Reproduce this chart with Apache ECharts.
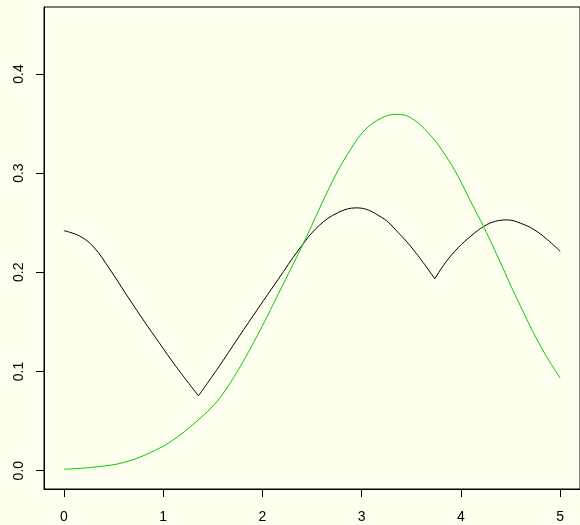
<!DOCTYPE html>
<html>
<head>
<meta charset="utf-8">
<script src="https://cdn.jsdelivr.net/npm/echarts@6/dist/echarts.min.js"></script>
<style>
html,body{margin:0;padding:0;background:#FFFFF0;}
#chart{width:580px;height:525px;}
</style>
</head>
<body>
<div id="chart"></div>
<script>
// X tick values and Y tick values
const xTicks = [0, 1, 2, 3, 4, 5];
const yTicks = [0, 0.1, 0.2, 0.3, 0.4];

// Black curve, in three pieces (sharp corners between them)
const blackX1 = [0, 0.16, 0.3, 0.46, 0.63, 0.8, 0.96, 1.13, 1.356];
const blackY1 = [0.242, 0.2365, 0.2255, 0.2035, 0.1775, 0.152, 0.129, 0.105, 0.0755];
const blackX2 = [1.356, 1.56, 1.76, 1.96, 2.16, 2.365, 2.565, 2.765, 2.95, 3.2, 3.367, 3.534, 3.737];
const blackY2 = [0.0755, 0.1045, 0.1345, 0.164, 0.193, 0.2225, 0.2465, 0.2603, 0.265, 0.2555, 0.2402, 0.2212, 0.1935];
const blackX3 = [3.737, 3.85, 3.97, 4.1, 4.235, 4.35, 4.47, 4.6, 4.736, 4.87, 5];
const blackY3 = [0.1935, 0.2105, 0.2245, 0.2365, 0.2465, 0.2515, 0.2528, 0.2495, 0.2431, 0.233, 0.2212];

// Green curve
const greenX = [0, 0.3, 0.63, 0.96, 1.13, 1.3, 1.5, 1.63, 1.8, 2.0, 2.165, 2.415, 2.72, 2.88, 3.033, 3.2, 3.35, 3.5, 3.7, 3.85, 3.97, 4.1, 4.235, 4.4, 4.569, 4.8, 5];
const greenY = [0.0014, 0.0035, 0.009, 0.0225, 0.033, 0.0465, 0.065, 0.0815, 0.109, 0.146, 0.179, 0.2297, 0.2945, 0.3225, 0.3435, 0.3555, 0.3593, 0.3555, 0.3374, 0.317, 0.297, 0.271, 0.2449, 0.2094, 0.1724, 0.126, 0.0933];

const pair = (xs, ys) => xs.map((x, i) => [x, ys[i]]);

const chart = echarts.init(document.getElementById('chart'), null, {renderer: 'canvas'});
const font = 'Liberation Sans, Arial, Helvetica, sans-serif';

function lineSeries(data, color) {
  return {
    type: 'line',
    data: data,
    symbol: 'none',
    smooth: 0.4,
    lineStyle: {color: color, width: 1},
    silent: true
  };
}

chart.setOption({
  backgroundColor: '#FFFFF0',
  animation: false,
  grid: {
    left: 44, top: 7, right: -3, bottom: 36,
    show: true, borderColor: '#000', borderWidth: 1, backgroundColor: 'transparent'
  },
  xAxis: {
    type: 'value',
    min: -0.2, max: 5.2,
    axisLine: {show: true, onZero: false, lineStyle: {color: '#000', width: 1}},
    axisTick: {show: true, length: 8, inside: false, customValues: xTicks, lineStyle: {color: '#000'}},
    axisLabel: {show: true, customValues: xTicks, margin: 21, color: '#000', fontSize: 14, fontFamily: font,
      formatter: v => String(v)},
    splitLine: {show: false}
  },
  yAxis: {
    type: 'value',
    min: -0.0185, max: 0.4675,
    axisLine: {show: true, onZero: false, lineStyle: {color: '#000', width: 1}},
    axisTick: {show: true, length: 8, inside: false, customValues: yTicks, lineStyle: {color: '#000'}},
    axisLabel: {show: true, customValues: yTicks, margin: 18, rotate: 90, color: '#000', fontSize: 14, fontFamily: font,
      formatter: v => v.toFixed(1)},
    splitLine: {show: false}
  },
  series: [
    lineSeries(pair(blackX1, blackY1), '#000000'),
    lineSeries(pair(blackX2, blackY2), '#000000'),
    lineSeries(pair(blackX3, blackY3), '#000000'),
    lineSeries(pair(greenX, greenY), '#00CD00')
  ]
});
</script>
</body>
</html>
